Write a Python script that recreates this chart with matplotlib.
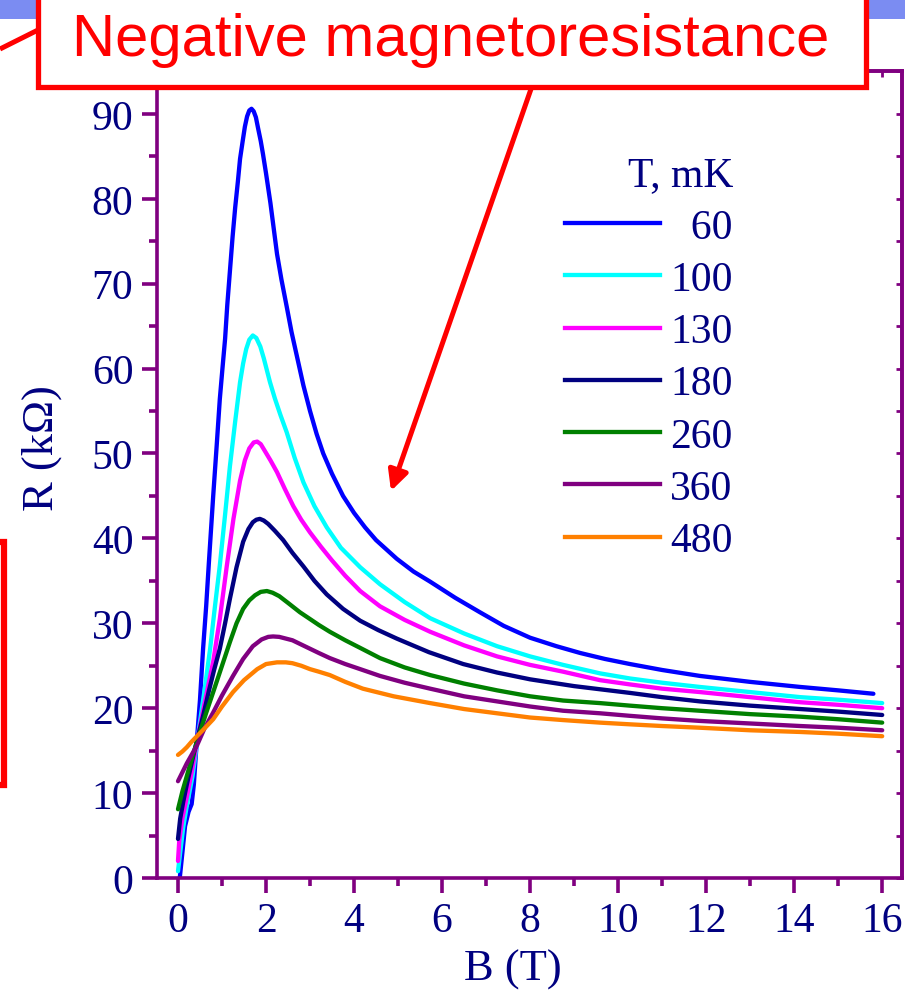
import matplotlib
matplotlib.use("Agg")
import matplotlib.pyplot as plt
from matplotlib.ticker import MultipleLocator
from matplotlib.patches import Rectangle
from matplotlib.lines import Line2D

# ---------------- data ----------------
temps = ["60", "100", "130", "180", "260", "360", "480"]
colors = ["#0000ff", "#00ffff", "#ff00ff", "#000080", "#008000", "#800080", "#ff8000"]

B_60 = [0.04, 0.10, 0.16, 0.24, 0.31, 0.36, 0.42, 0.50, 0.57, 0.64, 0.70, 0.80, 0.88, 0.95, 1.01, 1.07,
        1.12, 1.18, 1.24, 1.30, 1.36, 1.41, 1.47, 1.52, 1.57, 1.62, 1.67, 1.72, 1.77, 1.82, 1.88, 1.93,
        2.00, 2.10, 2.18, 2.25, 2.35, 2.47, 2.58, 2.70, 2.85, 3.00, 3.15, 3.30, 3.50, 3.75, 4.00, 4.25,
        4.50, 4.97, 5.35, 5.73, 6.30, 6.86, 7.40, 8.00, 8.60, 9.14, 9.70, 10.27, 11.00, 11.86, 13.00,
        14.14, 15.00, 15.80]
R_60 = [0.0, 3.0, 6.1, 7.8, 8.7, 11.0, 15.6, 21.0, 27.0, 32.0, 37.0, 45.0, 51.0, 56.4, 60.0, 63.5,
        67.5, 71.5, 75.5, 79.0, 82.0, 84.7, 86.8, 88.5, 89.7, 90.4, 90.6, 90.3, 89.6, 88.3, 86.8, 85.3,
        83.0, 79.5, 76.3, 73.5, 70.5, 67.3, 64.3, 61.5, 58.0, 55.0, 52.3, 50.0, 47.6, 45.0, 43.0, 41.3,
        39.8, 37.6, 36.1, 34.9, 33.0, 31.3, 29.7, 28.3, 27.3, 26.5, 25.8, 25.2, 24.5, 23.8, 23.1,
        22.5, 22.1, 21.7]

B_100 = [0.0, 0.05, 0.12, 0.20, 0.33, 0.45, 0.60, 0.73, 0.84, 0.95, 1.07, 1.18, 1.30, 1.41, 1.48, 1.55,
         1.62, 1.70, 1.78, 1.87, 1.95, 2.02, 2.09, 2.20, 2.33, 2.47, 2.65, 2.85, 3.10, 3.38, 3.70, 4.14,
         4.59, 5.15, 5.73, 6.50, 7.25, 8.00, 8.75, 9.59, 10.27, 11.00, 11.86, 13.00, 14.14, 15.00, 16.00]
R_100 = [0.8, 3.0, 6.0, 8.5, 12.0, 16.6, 22.0, 27.0, 32.0, 36.8, 42.8, 48.5, 53.8, 58.4, 60.6, 62.3,
         63.4, 63.9, 63.6, 62.6, 61.2, 59.8, 58.4, 56.5, 54.5, 52.5, 49.5, 46.6, 43.8, 41.3, 38.9, 36.6,
         34.6, 32.5, 30.6, 28.8, 27.3, 26.1, 25.1, 24.1, 23.5, 23.0, 22.5, 21.9, 21.3, 21.0, 20.6]

B_130 = [0.0, 0.03, 0.10, 0.20, 0.33, 0.45, 0.60, 0.80, 0.95, 1.11, 1.26, 1.41, 1.52, 1.62, 1.72, 1.80,
         1.88, 1.95, 2.10, 2.25, 2.43, 2.62, 2.80, 3.00, 3.25, 3.50, 3.80, 4.14, 4.59, 5.15, 5.73, 6.50,
         7.25, 8.00, 8.75, 9.59, 10.27, 11.00, 11.86, 13.00, 14.14, 15.00, 16.00]
R_130 = [2.0, 4.5, 7.0, 9.5, 13.0, 16.6, 20.5, 25.5, 30.5, 36.8, 42.3, 46.8, 49.2, 50.6, 51.3, 51.4,
         51.1, 50.5, 49.2, 47.8, 45.8, 43.8, 42.2, 40.7, 39.0, 37.4, 35.6, 33.8, 32.0, 30.4, 29.0, 27.4,
         26.1, 25.1, 24.3, 23.3, 22.8, 22.3, 21.9, 21.3, 20.7, 20.4, 20.0]

B_180 = [0.0, 0.05, 0.12, 0.20, 0.33, 0.45, 0.58, 0.70, 0.82, 0.95, 1.07, 1.18, 1.33, 1.48, 1.60, 1.70,
         1.78, 1.86, 1.95, 2.05, 2.20, 2.39, 2.60, 2.85, 3.10, 3.38, 3.75, 4.14, 4.55, 4.97, 5.70, 6.48,
         7.25, 8.00, 9.00, 10.27, 11.00, 11.86, 13.00, 14.14, 15.00, 16.00]
R_180 = [4.6, 7.0, 9.0, 11.0, 14.0, 16.6, 19.3, 22.0, 24.5, 27.0, 30.0, 32.9, 36.6, 39.6, 41.1, 41.9,
         42.2, 42.3, 42.1, 41.7, 40.9, 39.8, 38.3, 36.7, 35.0, 33.4, 31.7, 30.3, 29.2, 28.2, 26.6, 25.2,
         24.2, 23.4, 22.6, 21.8, 21.3, 20.8, 20.3, 19.9, 19.6, 19.2]

B_260 = [0.0, 0.10, 0.20, 0.35, 0.50, 0.65, 0.80, 1.00, 1.18, 1.33, 1.48, 1.62, 1.75, 1.88, 2.02, 2.15,
         2.30, 2.50, 2.77, 3.00, 3.20, 3.45, 3.80, 4.14, 4.59, 5.15, 5.73, 6.50, 7.25, 8.00, 8.75, 9.59,
         10.27, 11.00, 11.86, 13.00, 14.14, 15.00, 16.00]
R_260 = [8.1, 10.2, 12.0, 14.7, 17.2, 19.6, 21.9, 25.0, 27.8, 30.0, 31.7, 32.7, 33.3, 33.7, 33.8, 33.6,
         33.2, 32.4, 31.3, 30.5, 29.8, 29.0, 28.0, 27.1, 25.9, 24.8, 23.9, 22.9, 22.1, 21.4, 20.9, 20.6,
         20.3, 20.0, 19.7, 19.3, 19.0, 18.7, 18.3]

B_360 = [0.0, 0.20, 0.43, 0.60, 0.80, 1.00, 1.25, 1.48, 1.70, 1.90, 2.05, 2.16, 2.30, 2.45, 2.60, 2.80,
         3.00, 3.20, 3.45, 3.80, 4.14, 4.59, 5.15, 5.73, 6.50, 7.25, 8.00, 8.75, 9.59, 10.27, 11.00, 11.86,
         13.00, 14.14, 15.00, 16.00]
R_360 = [11.4, 13.5, 15.6, 17.6, 19.5, 21.5, 23.8, 25.8, 27.3, 28.1, 28.4, 28.45, 28.4, 28.2, 28.0, 27.5,
         27.0, 26.5, 25.9, 25.2, 24.6, 23.8, 23.0, 22.3, 21.4, 20.8, 20.2, 19.7, 19.4, 19.1, 18.8, 18.5,
         18.2, 17.9, 17.7, 17.4]

B_480 = [0.0, 0.10, 0.20, 0.30, 0.43, 0.60, 0.80, 1.00, 1.25, 1.50, 1.80, 2.00, 2.25, 2.45, 2.60, 2.80,
         3.00, 3.20, 3.45, 3.80, 4.20, 4.90, 5.73, 6.50, 7.25, 8.00, 8.75, 9.59, 10.27, 11.00, 11.86,
         13.00, 14.14, 15.00, 16.00]
R_480 = [14.5, 14.9, 15.4, 16.0, 16.7, 17.6, 18.7, 20.2, 21.9, 23.3, 24.6, 25.2, 25.4, 25.4, 25.3, 25.0,
         24.6, 24.3, 23.9, 23.1, 22.3, 21.4, 20.6, 19.9, 19.4, 18.9, 18.6, 18.3, 18.1, 17.9, 17.7,
         17.4, 17.2, 17.0, 16.7]

series_B = [B_60, B_100, B_130, B_180, B_260, B_360, B_480]
series_R = [R_60, R_100, R_130, R_180, R_260, R_360, R_480]

x_ticks = [0, 2, 4, 6, 8, 10, 12, 14, 16]
y_ticks = [0, 10, 20, 30, 40, 50, 60, 70, 80, 90]

# ---------------- style ----------------
SERIF = ["Liberation Serif", "DejaVu Serif"]
NAVY = "#000080"
PURPLE = "#800080"
RED = "#ff0000"

W, H = 905, 995
fig = plt.figure(figsize=(W / 100, H / 100), dpi=100)
fig.patch.set_facecolor("white")

left, right, top, bottom = 157, 902, 72, 879
ax = fig.add_axes([left / W, 1 - bottom / H, (right - left) / W, (bottom - top) / H])

for b, r, c, t in zip(series_B, series_R, colors, temps):
    ax.plot(b, r, color=c, lw=3.1, solid_capstyle="round", solid_joinstyle="round", label=t)

ax.set_xlim(-0.477, 16.45)
ax.set_ylim(0, 95.05)
ax.set_xticks(x_ticks)
ax.set_yticks(y_ticks)
ax.xaxis.set_minor_locator(MultipleLocator(1))
ax.yaxis.set_minor_locator(MultipleLocator(5))

for s in ax.spines.values():
    s.set_color(PURPLE)
    s.set_linewidth(2.6)

ax.tick_params(axis="both", which="major", direction="out", length=11, width=2.6,
               color=PURPLE, labelcolor=NAVY, labelsize=30, pad=6)
ax.tick_params(axis="both", which="minor", direction="out", length=6, width=2.6, color=PURPLE)
for lab in ax.get_xticklabels() + ax.get_yticklabels():
    lab.set_family(SERIF)

# inward ticks on top/right
secx = ax.secondary_xaxis("top")
secx.set_xticks(x_ticks)
secx.xaxis.set_minor_locator(MultipleLocator(1))
secx.tick_params(which="both", direction="in", length=4, width=2, color=PURPLE, labeltop=False)
secx.spines["top"].set_color(PURPLE)
secx.spines["top"].set_linewidth(2.6)
secy = ax.secondary_yaxis("right")
secy.set_yticks(y_ticks)
secy.yaxis.set_minor_locator(MultipleLocator(5))
secy.tick_params(which="both", direction="in", length=4, width=2, color=PURPLE, labelright=False)
secy.spines["right"].set_color(PURPLE)
secy.spines["right"].set_linewidth(2.6)

ax.set_xlabel("B (T)", fontsize=32, color=NAVY, family=SERIF)
ax.set_ylabel("R (k\u03a9)", fontsize=32, color=NAVY, family=SERIF)
ax.xaxis.set_label_coords((513 - left) / (right - left), (bottom - 950) / (bottom - top))
ax.yaxis.set_label_coords((62 - left) / (right - left), (bottom - 448) / (bottom - top))

handles = [Line2D([], [], color=c, lw=3.1) for c in colors]
labels = ["\u2007" + t if len(t) == 2 else t for t in temps]
leg = ax.legend(handles, labels, title="T, mK", loc="upper left",
                bbox_to_anchor=(565 / W, 1 - 157 / H), bbox_transform=fig.transFigure,
                frameon=False, borderpad=0, borderaxespad=0, handlelength=2.28,
                handletextpad=0.25, labelspacing=0.33, alignment="right",
                prop={"family": SERIF, "size": 30}, title_fontproperties={"family": SERIF, "size": 30})
for t in leg.get_texts():
    t.set_color(NAVY)
leg.get_title().set_color(NAVY)

# ---------------- overlay decorations (pixel coordinates) ----------------
ov = fig.add_axes([0, 0, 1, 1], zorder=10)
ov.set_xlim(0, W)
ov.set_ylim(H, 0)
ov.axis("off")
ov.patch.set_alpha(0)

ov.add_patch(Rectangle((0, 0), W, 20, facecolor="#7b8cf2", edgecolor="none", zorder=1))
ov.plot([0, 38], [50, 31], color=RED, lw=3.6, zorder=2, solid_capstyle="butt")
ov.add_patch(Rectangle((38, -20), 866 - 38, 108, facecolor="white", edgecolor=RED, lw=3.8, zorder=3))
ov.text(451, 40, "Negative magnetoresistance", color=RED, fontsize=43, family="Liberation Sans",
        ha="center", va="center", zorder=4)
ov.annotate("", xy=(391, 492), xytext=(531, 90),
            arrowprops=dict(arrowstyle="-|>", color=RED, lw=3.6, mutation_scale=30,
                            shrinkA=0, shrinkB=0), zorder=4)
ov.add_patch(Rectangle((-100, 543), 104, 243, facecolor="none", edgecolor=RED, lw=4.5, zorder=3))

fig.savefig("out.png", dpi=100)
